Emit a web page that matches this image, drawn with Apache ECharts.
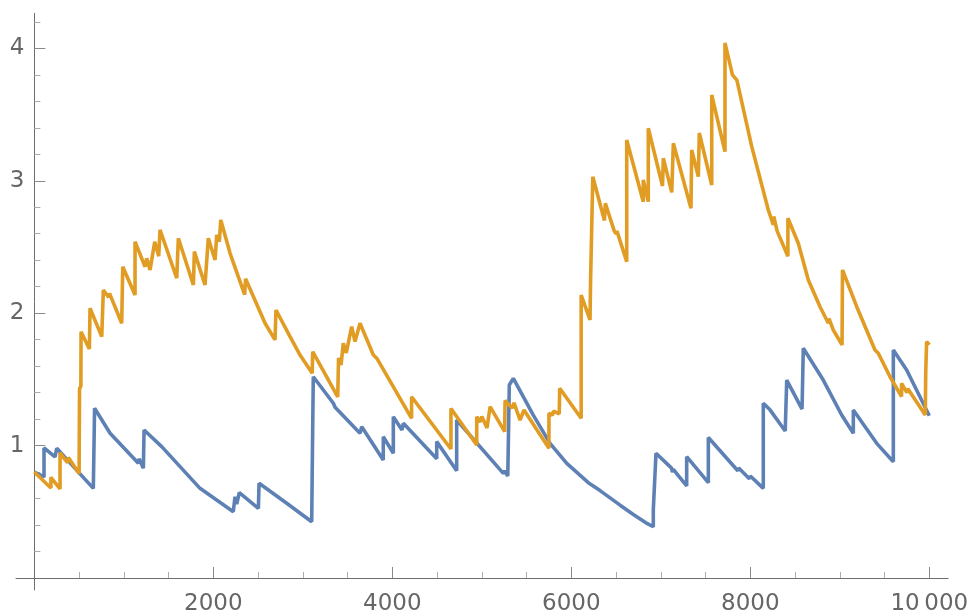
<!DOCTYPE html>
<html><head><meta charset="utf-8">
<script src="https://cdn.jsdelivr.net/npm/echarts@6/dist/echarts.min.js"></script>
<style>html,body{margin:0;padding:0;background:#fff}#c{width:969px;height:616px}</style>
</head><body><div id="c"></div>
<script>
// Series 1 (blue) as [x, y] points
const blueSeries = [
  [0,0.80],[108,0.763],[108,0.982],[231,0.914],[250,0.98],[659,0.677],[673,1.282],[846,1.093],
  [1162,0.866],[1170,0.90],[1218,0.829],[1226,1.118],[1423,0.992],[1851,0.677],[2223,0.501],
  [2242,0.614],[2261,0.559],[2290,0.644],[2503,0.526],[2511,0.715],[2820,0.564],[3099,0.425],
  [3108,1.0],[3117,1.52],[3341,1.32],[3360,1.29],[3639,1.093],[3658,1.143],[3899,0.891],
  [3899,1.067],[4011,0.942],[4011,1.218],[4108,1.118],[4123,1.168],[4496,0.90],[4496,1.03],
  [4719,0.81],[4719,1.193],[5240,0.79],[5255,0.81],[5290,0.77],[5307,0.77],[5307,1.458],
  [5352,1.508],[5575,1.23],[5762,1.017],[5949,0.866],[6190,0.72],[6321,0.66],[6545,0.55],
  [6693,0.48],[6850,0.41],[6916,0.387],[6916,0.514],[6946,0.942],[7120,0.83],[7130,0.80],
  [7140,0.82],[7200,0.77],[7210,0.78],[7289,0.695],[7289,0.916],[7531,0.72],[7531,1.061],
  [7860,0.81],[7870,0.83],[7990,0.75],[8000,0.77],[8145,0.677],[8145,1.32],[8220,1.27],
  [8390,1.11],[8407,1.495],[8578,1.276],[8592,1.735],[8815,1.495],[9021,1.231],[9151,1.093],
  [9151,1.269],[9412,1.017],[9598,0.878],[9598,1.722],[9747,1.571],[10000,1.225]
];
// Series 2 (orange) as [x, y] points
const orangeSeries = [
  [0,0.80],[185,0.68],[185,0.76],[287,0.672],[287,0.945],[370,0.87],[380,0.91],[500,0.79],
  [505,1.43],[520,1.45],[522,1.86],[615,1.73],[622,2.037],[753,1.823],[771,2.175],[830,2.12],
  [840,2.15],[976,1.924],[988,2.351],[1125,2.137],[1125,2.54],[1237,2.351],[1256,2.415],
  [1293,2.326],[1345,2.54],[1390,2.43],[1404,2.63],[1591,2.264],[1609,2.566],[1777,2.213],
  [1788,2.465],[1907,2.213],[1944,2.566],[2019,2.402],[2038,2.591],[2067,2.54],[2083,2.704],
  [2187,2.452],[2350,2.14],[2360,2.26],[2578,1.924],[2689,1.798],[2700,2.024],[2857,1.823],
  [2969,1.684],[3105,1.546],[3110,1.709],[3390,1.367],[3399,1.662],[3427,1.609],[3452,1.773],
  [3485,1.70],[3546,1.898],[3583,1.785],[3639,1.924],[3788,1.684],[3826,1.66],[4215,1.206],
  [4215,1.369],[4655,0.974],[4655,1.28],[4943,1.005],[4943,1.218],[4980,1.178],[5000,1.22],
  [5058,1.133],[5092,1.294],[5255,1.105],[5260,1.34],[5338,1.284],[5360,1.322],[5427,1.193],
  [5471,1.269],[5750,0.98],[5750,1.244],[5790,1.23],[5800,1.26],[5865,1.24],[5870,1.433],
  [6110,1.206],[6110,2.137],[6209,1.949],[6215,2.24],[6235,2.25],[6240,3.03],[6370,2.70],
  [6380,2.83],[6480,2.62],[6500,2.60],[6510,2.62],[6619,2.389],[6619,3.308],[6804,2.842],
  [6804,3.006],[6860,2.842],[6860,3.397],[7019,2.961],[7028,3.170],[7122,2.912],[7140,3.283],
  [7337,2.792],[7345,3.233],[7419,3.031],[7430,3.361],[7569,2.968],[7569,3.648],[7717,3.220],
  [7717,4.041],[7790,3.83],[7800,3.80],[7815,3.81],[7850,3.76],[8016,3.258],[8201,2.779],
  [8257,2.666],[8262,2.73],[8300,2.62],[8420,2.43],[8420,2.717],[8536,2.528],[8648,2.251],
  [8779,2.049],[8872,1.924],[8880,1.96],[8890,1.94],[8927,1.873],[9025,1.76],[9030,2.326],
  [9189,2.049],[9393,1.722],[9430,1.697],[9561,1.520],[9690,1.37],[9690,1.47],[9750,1.40],
  [9760,1.43],[9955,1.231],[9960,1.55],[9970,1.785],[10000,1.76]
];
const xMajorTicks = [2000, 4000, 6000, 8000, 10000];
const xMinorTicks = [500,1000,1500,2500,3000,3500,4500,5000,5500,6500,7000,7500,8500,9000,9500];
const yMajorTicks = [1, 2, 3, 4];
const yMinorTicks = [0.2,0.4,0.6,0.8,1.2,1.4,1.6,1.8,2.2,2.4,2.6,2.8,3.2,3.4,3.6,3.8,4.2];

const X_MIN = -205, X_MAX = 10210, Y_MIN = -0.09, Y_MAX = 4.265;
const AX = '#6e6e6e', MAJ = '#8a8a8a', MIN = '#ababab', LBL = '#666666';
const FONT = 'DejaVu Sans';

const chart = echarts.init(document.getElementById('c'), null, {renderer: 'canvas'});
chart.setOption({
  animation: false,
  backgroundColor: '#ffffff',
  grid: {left: 16, top: 13.3, width: 932.1, height: 576.6, containLabel: false, outerBoundsMode: 'none'},
  xAxis: [
    {
      type: 'value', min: X_MIN, max: X_MAX, position: 'bottom',
      axisLine: {show: true, onZero: true, onZeroAxisIndex: 0, lineStyle: {color: AX, width: 1}},
      axisTick: {show: true, inside: true, length: 11, customValues: xMajorTicks, lineStyle: {color: MAJ, width: 1}},
      axisLabel: {show: true, customValues: xMajorTicks, margin: 3, color: LBL, fontSize: 23, fontFamily: FONT,
        formatter: v => v === 10000 ? '10\u2009000' : String(v)},
      splitLine: {show: false}
    },
    {
      type: 'value', min: X_MIN, max: X_MAX, position: 'bottom',
      axisLine: {show: false, onZero: true, onZeroAxisIndex: 0},
      axisTick: {show: true, inside: true, length: 6, customValues: xMinorTicks, lineStyle: {color: MIN, width: 1}},
      axisLabel: {show: false},
      splitLine: {show: false}
    }
  ],
  yAxis: [
    {
      type: 'value', min: Y_MIN, max: Y_MAX, position: 'left',
      axisLine: {show: true, onZero: true, onZeroAxisIndex: 0, lineStyle: {color: AX, width: 1}},
      axisTick: {show: true, inside: true, length: 11, customValues: yMajorTicks, lineStyle: {color: MAJ, width: 1}},
      axisLabel: {show: true, customValues: yMajorTicks, margin: -8.5, color: LBL, fontSize: 23, fontFamily: FONT,
        formatter: v => String(Math.round(v))},
      splitLine: {show: false}
    },
    {
      type: 'value', min: Y_MIN, max: Y_MAX, position: 'left',
      axisLine: {show: false, onZero: true, onZeroAxisIndex: 0},
      axisTick: {show: true, inside: true, length: 6, customValues: yMinorTicks, lineStyle: {color: MIN, width: 1}},
      axisLabel: {show: false},
      splitLine: {show: false}
    }
  ],
  series: [
    {type: 'line', xAxisIndex: 0, yAxisIndex: 0, data: blueSeries, showSymbol: false, silent: true,
      lineStyle: {color: '#5E81B5', width: 3.6}, itemStyle: {color: '#5E81B5'}},
    {type: 'line', xAxisIndex: 0, yAxisIndex: 0, data: orangeSeries, showSymbol: false, silent: true,
      lineStyle: {color: '#E19C24', width: 3.6}, itemStyle: {color: '#E19C24'}}
  ]
});
</script></body></html>
